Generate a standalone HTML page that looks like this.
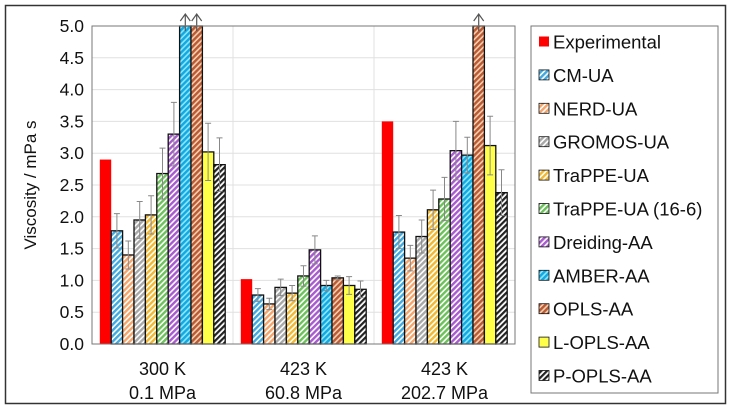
<!DOCTYPE html>
<html><head><meta charset="utf-8"><style>
body{margin:0;background:#fff;}
svg{display:block;font-family:"Liberation Sans",Arial,sans-serif;}
</style></head><body>
<svg id="c" width="731" height="411" viewBox="0 0 731 411" xmlns="http://www.w3.org/2000/svg">
<defs>
<pattern id="p1" width="4" height="4" patternUnits="userSpaceOnUse" patternTransform="rotate(45)"><rect width="4" height="4" fill="#fff"/><rect width="2.4" height="4" fill="#3fa9e0"/></pattern>
<pattern id="p2" width="4" height="4" patternUnits="userSpaceOnUse" patternTransform="rotate(45)"><rect width="4" height="4" fill="#fff"/><rect width="2.4" height="4" fill="#f5a46a"/></pattern>
<pattern id="p3" width="4" height="4" patternUnits="userSpaceOnUse" patternTransform="rotate(45)"><rect width="4" height="4" fill="#fff"/><rect width="2.4" height="4" fill="#a8a8a8"/></pattern>
<pattern id="p4" width="4" height="4" patternUnits="userSpaceOnUse" patternTransform="rotate(45)"><rect width="4" height="4" fill="#fff"/><rect width="2.4" height="4" fill="#f2b830"/></pattern>
<pattern id="p5" width="4" height="4" patternUnits="userSpaceOnUse" patternTransform="rotate(45)"><rect width="4" height="4" fill="#fff"/><rect width="2.4" height="4" fill="#6cc25a"/></pattern>
<pattern id="p6" width="4" height="4" patternUnits="userSpaceOnUse" patternTransform="rotate(45)"><rect width="4" height="4" fill="#fff"/><rect width="2.4" height="4" fill="#a85ad0"/></pattern>
<pattern id="p7" width="4" height="4" patternUnits="userSpaceOnUse" patternTransform="rotate(45)"><rect width="4" height="4" fill="#8fe6ff"/><rect width="2.4" height="4" fill="#12a8e0"/></pattern>
<pattern id="p8" width="4" height="4" patternUnits="userSpaceOnUse" patternTransform="rotate(45)"><rect width="4" height="4" fill="#f8d0b0"/><rect width="2.4" height="4" fill="#b85a35"/></pattern>
<pattern id="p10" width="4" height="4" patternUnits="userSpaceOnUse" patternTransform="rotate(45)"><rect width="4" height="4" fill="#fff"/><rect width="2.2" height="4" fill="#222"/></pattern>
</defs>
<rect x="5.5" y="5.5" width="720" height="398" fill="#fff" stroke="#333" stroke-width="1.5"/>
<g id="grid"></g><g id="bars"></g><g id="axes"></g>
<text transform="translate(36,185) rotate(-90)" text-anchor="middle" font-size="17" fill="#111">Viscosity / mPa s</text>
<g id="legend"></g>
</svg>
<script>
const categories = [["300 K","0.1 MPa"],["423 K","60.8 MPa"],["423 K","202.7 MPa"]];
const seriesNames = ["Experimental","CM-UA","NERD-UA","GROMOS-UA","TraPPE-UA","TraPPE-UA (16-6)","Dreiding-AA","AMBER-AA","OPLS-AA","L-OPLS-AA","P-OPLS-AA"];
const values300 = [2.9,1.78,1.4,1.95,2.03,2.68,3.3,5,5,3.02,2.82];
const values423a = [1.02,0.77,0.63,0.89,0.8,1.07,1.48,0.92,1.04,0.92,0.86];
const values423b = [3.5,1.76,1.35,1.69,2.11,2.28,3.04,2.97,5,3.12,2.38];
const err300 = [0,0.27,0.22,0.29,0.3,0.4,0.5,0,0,0.45,0.42];
const err423a = [0,0.1,0.09,0.13,0.12,0.16,0.22,0.08,0.03,0.14,0.13];
const err423b = [0,0.26,0.2,0.26,0.31,0.34,0.46,0.28,0,0.46,0.36];
const offScale300 = [0,0,0,0,0,0,0,1,1,0,0];
const offScale423a = [0,0,0,0,0,0,0,0,0,0,0];
const offScale423b = [0,0,0,0,0,0,0,0,1,0,0];
const yTicks = [0,0.5,1,1.5,2,2.5,3,3.5,4,4.5,5];
const yTickLabels = ["0.0","0.5","1.0","1.5","2.0","2.5","3.0","3.5","4.0","4.5","5.0"];

const fills=["#ff0000","url(#p1)","url(#p2)","url(#p3)","url(#p4)","url(#p5)","url(#p6)","url(#p7)","url(#p8)","#ffff4a","url(#p10)"];
const NS="http://www.w3.org/2000/svg";
const X0=92,X1=515,Y0=344,Y1=26,YMAX=5;
const groupW=(X1-X0)/categories.length, barW=11.4, pad=(groupW-barW*11)/2;
const y=v=>Y0-(v/YMAX)*(Y0-Y1);
const xb=(g,i)=>X0+g*groupW+pad+i*barW;
function mk(t,a,p){const e=document.createElementNS(NS,t);for(const k in a)e.setAttribute(k,a[k]);(p||document.getElementById('c')).appendChild(e);return e;}
const grid=document.getElementById('grid'),bars=document.getElementById('bars'),axes=document.getElementById('axes'),leg=document.getElementById('legend');
yTicks.forEach((t,i)=>{
 if(i>0){const l=mk('line',{x1:X0,x2:X1,y1:y(t),y2:y(t),stroke:'#e0e0e0'},grid);
 
 }
 const tx=mk('text',{x:84,y:y(t)+6,'text-anchor':'end','font-size':17.5,fill:'#111'},axes);tx.textContent=yTickLabels[i];
 
 
});
for(let g=1;g<categories.length;g++){const l=mk('line',{x1:X0+g*groupW,x2:X0+g*groupW,y1:Y1,y2:Y0,stroke:'#e0e0e0'},grid);
 
 }
const f=mk('rect',{x:X0,y:Y1,width:X1-X0,height:Y0-Y1,fill:'none',stroke:'#777'},axes);


const allV=[values300,values423a,values423b],allE=[err300,err423a,err423b],allO=[offScale300,offScale423a,offScale423b];
allV.forEach((vals,g)=>{
 vals.forEach((v,i)=>{
  const vv=Math.min(v,YMAX);
  const r=mk('rect',{x:xb(g,i),y:y(vv),width:barW,height:Y0-y(vv),fill:fills[i],stroke:i==0?'none':'#111','stroke-width':1.3},bars);
  
  
  const e=allE[g][i],cx=xb(g,i)+barW/2;
  if(e>0){
   const eb=mk('path',{d:`M${cx},${y(vv+e)}V${y(vv-e)}M${cx-3},${y(vv+e)}H${cx+3}M${cx-3},${y(vv-e)}H${cx+3}`,stroke:'#888',fill:'none','stroke-width':1},bars);
   
   
  }
  if(allO[g][i]){
   const a=mk('path',{d:`M${cx},${Y1+5}V${Y1-12}M${cx-5},${Y1-5}L${cx},${Y1-12}L${cx+5},${Y1-5}`,stroke:'#555',fill:'none','stroke-width':1.2},bars);
   
   
  }
 });
 categories[g].forEach((s,k)=>{
  const t=mk('text',{x:X0+g*groupW+groupW/2,y:375+k*24,'text-anchor':'middle','font-size':18,fill:'#111'},axes);t.textContent=s;
  
  
 });
});
const lb=mk('rect',{x:531,y:26,width:187,height:367,fill:'#fff',stroke:'#777'},leg);


seriesNames.forEach((n,i)=>{
 const yy=42+i*33.4;
 const g=mk('g',{},leg);
 
 
 mk('rect',{x:539,y:yy-5.5,width:10,height:10,fill:fills[i],stroke:i==0?'none':'#111','stroke-width':0.8},g);
 const t=mk('text',{x:553,y:yy+6.5,'font-size':18.5,fill:'#111'},g);t.textContent=n;
});
</script>
</body></html>
